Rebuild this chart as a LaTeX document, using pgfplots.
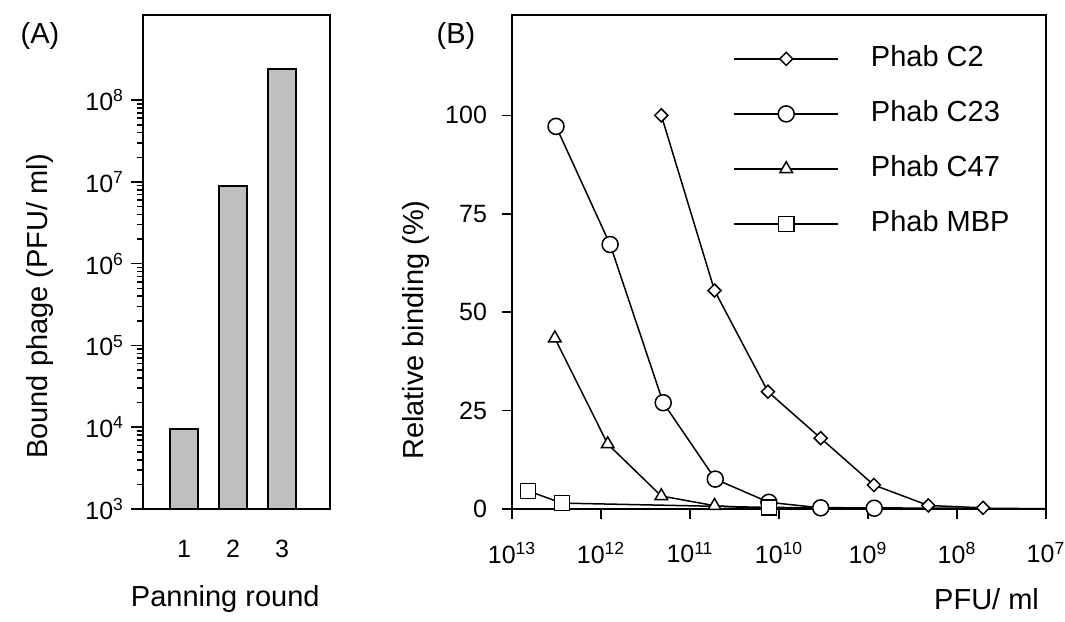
\documentclass[border=0pt]{standalone}
\usepackage{fontspec}
\setmainfont{Liberation Sans}
\usepackage{pgfplots}
\usepackage{pgfplotstable}
\pgfplotsset{compat=1.18}

% panel A: bound phage per panning round
\pgfplotstableread{
round count
1 9.5e3
2 9e6
3 2.4e8
}\panning

\begin{document}
\begin{tikzpicture}[font=\fontsize{14.5}{17}\selectfont]
\useasboundingbox (0,0) rectangle (532.5pt,-310.5pt);
\pgfplotsset{
  every axis/.append style={
    scale only axis,
    axis line style={line width=1pt},
    tick style={line width=0.8pt, black},
    tick align=outside,
    tick label style={font=\fontsize{12.5}{14}\selectfont},
    label style={font=\fontsize{14.5}{17}\selectfont},
  },
}

\begin{axis}[
  at={(71.5pt,-254.5pt)}, anchor=south west,
  width=93.5pt, height=247pt,
  ymode=log, log origin=infty,
  ymin=1e3, ymax=1.1e9,
  xmin=0.16, xmax=3.98,
  ybar, bar width=14pt,
  ytick={1e3,1e4,1e5,1e6,1e7,1e8},
  yticklabels={10\textsuperscript{3},10\textsuperscript{4},10\textsuperscript{5},10\textsuperscript{6},10\textsuperscript{7},10\textsuperscript{8}},
  xtick={1,2,3}, xticklabels={1,2,3},
  xtick style={draw=none},
  ytick pos=left,
  major tick length=6pt, minor tick length=3pt,
  xticklabel style={yshift=-6pt},
  ylabel={Bound phage (PFU/ ml)},
  ylabel style={at={(axis description cs:-0.55,0.41)}, anchor=center},
  xlabel={Panning round},
  xlabel style={at={(axis description cs:0.44,0)}, anchor=center, yshift=-45pt},
]
\addplot[fill=black!25, draw=black, line width=1pt] table[x=round, y=count] {\panning};
\end{axis}

\begin{axis}[
  at={(256pt,-254.5pt)}, anchor=south west,
  width=267pt, height=247pt,
  xmode=log, x dir=reverse,
  xmin=1e7, xmax=1e13, ymin=0, ymax=125.5,
  xtick={1e7,1e8,1e9,1e10,1e11,1e12,1e13},
  xticklabels={10\textsuperscript{7},10\textsuperscript{8},10\textsuperscript{9},10\textsuperscript{10},10\textsuperscript{11},10\textsuperscript{12},10\textsuperscript{13}},
  xminorticks=false,
  ytick={0,25,50,75,100}, yticklabels={0,25,50,75,100},
  xtick pos=left, ytick pos=left,
  major tick length=5pt,
  xticklabel style={yshift=-8pt},
  yticklabel style={xshift=-4pt},
  clip=false,
  ylabel={Relative binding (\%)},
  ylabel style={at={(axis description cs:-0.18,0.362)}, anchor=center},
  xlabel={PFU/ ml},
  xlabel style={at={(axis description cs:1,0)}, anchor=east, yshift=-45pt},
  legend style={draw=none, fill=none, at={(rel axis cs:0.414,1)}, anchor=north west,
    yshift=-13pt, inner sep=0pt, row sep=10pt,
    nodes={text height=10.5pt, text depth=3pt, inner sep=2pt},
    font=\fontsize{14.5}{17}\selectfont,
    /tikz/every odd column/.append style={column sep=14pt}},
  legend cell align=left,
  legend image code/.code={\draw[mark repeat=2, mark phase=2] plot coordinates {(0pt,0pt) (26pt,0pt) (52pt,0pt)};},
  every axis plot/.append style={black, line width=0.75pt, mark options={fill=white, line width=0.75pt}},
]
\addplot[mark=square*, mark size=2.3pt, mark options={fill=white, line width=0.75pt, rotate=45}] coordinates {
  (2.1e11,100) (5.3e10,55.5) (1.33e10,29.8) (3.4e9,18) (8.6e8,6.1) (2.1e8,0.9) (5.1e7,0.3)};
\addplot[mark=*, mark size=4pt] coordinates {
  (3.2e12,97.2) (7.9e11,67.2) (2.0e11,27) (5.2e10,7.6) (1.3e10,1.7) (3.4e9,0.3) (8.5e8,0.2)};
\addplot[mark=triangle*, mark size=3.6pt] coordinates {
  (3.3e12,43.4) (8.4e11,16.5) (2.1e11,3.3) (5.3e10,0.85) (1.3e10,0)};
\addplot[mark=square*, mark size=3.8pt] coordinates {
  (6.6e12,4.6) (2.75e12,1.5) (1.3e10,0.4)};
\addplot[no markers, forget plot] coordinates {(1.3e10,0.4) (1e7,0.1)};
\legend{Phab C2, Phab C23, Phab C47, Phab MBP}
\end{axis}

\node at (20pt,-18pt) {(A)};
\node at (228pt,-18pt) {(B)};
\end{tikzpicture}
\end{document}
